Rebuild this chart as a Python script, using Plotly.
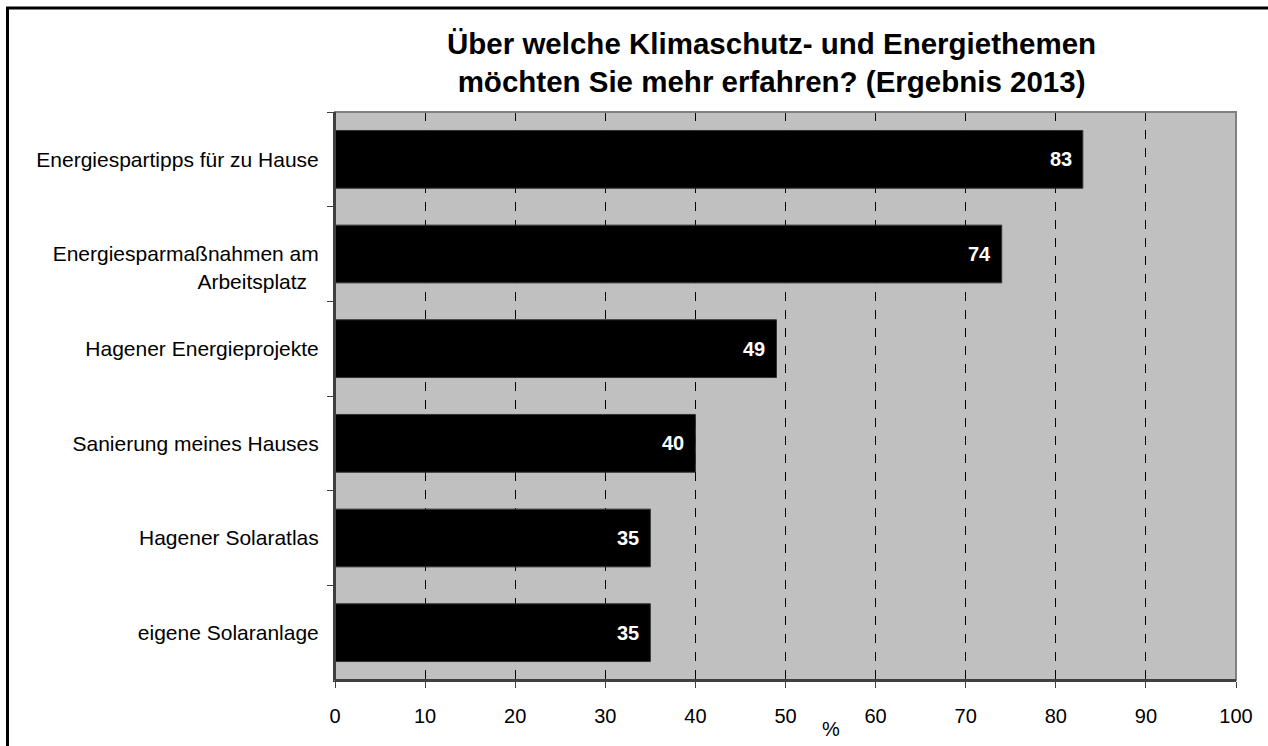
import plotly.graph_objects as go

# Survey topics (top to bottom) and share of respondents in percent
topics = [
    "Energiespartipps für zu Hause",
    "\u00a0<br>Energiesparmaßnahmen am<br>Arbeitsplatz\u00a0\u00a0",
    "Hagener Energieprojekte",
    "Sanierung meines Hauses",
    "Hagener Solaratlas",
    "eigene Solaranlage",
]
percent = [83, 74, 49, 40, 35, 35]
x_ticks = [0, 10, 20, 30, 40, 50, 60, 70, 80, 90, 100]

W, H = 1268, 746
L, R, T, B = 335, 32, 112, 66
pw, ph = W - L - R, H - T - B

def px_x(p):
    return (p - L) / pw

def px_y(p):
    return (H - B - p) / ph

FONT = "Liberation Sans, Arial, sans-serif"

fig = go.Figure(
    go.Bar(
        x=percent,
        y=topics,
        orientation="h",
        marker=dict(color="black", line=dict(color="#333333", width=1)),
        hoverinfo="x+y",
    )
)

# Value labels inside the bar ends
for topic, value in zip(topics, percent):
    fig.add_annotation(
        x=value, y=topic, xref="x", yref="y",
        xanchor="right", yanchor="middle", xshift=-9,
        text=f"<b>{value}</b>", showarrow=False,
        font=dict(family=FONT, size=20, color="white"),
    )

fig.update_layout(
    width=W,
    height=H,
    margin=dict(l=L, r=R, t=T, b=B, autoexpand=False),
    paper_bgcolor="white",
    plot_bgcolor="#C0C0C0",
    bargap=0.39,
    showlegend=False,
    font=dict(family=FONT, color="black"),
)

fig.update_xaxes(
    range=[0, 100],
    tickvals=x_ticks,
    ticktext=[str(v) for v in x_ticks],
    tickfont=dict(size=20, color="black"),
    ticks="outside",
    ticklen=6,
    tickcolor="#404040",
    showline=True,
    linecolor="#404040",
    linewidth=2,
    showgrid=True,
    gridcolor="black",
    griddash="dash",
    gridwidth=1,
    zeroline=False,
    ticklabelstandoff=11,
    fixedrange=True,
)

fig.update_yaxes(
    autorange="reversed",
    tickfont=dict(size=21, color="black"),
    ticks="outside",
    tickson="boundaries",
    ticklen=6,
    tickcolor="#404040",
    showline=True,
    linecolor="#404040",
    linewidth=2,
    showgrid=False,
    ticklabelstandoff=10,
    fixedrange=True,
)

# Grey frame around the plot area (top and right edges visible)
fig.add_shape(type="rect", xref="paper", yref="paper", x0=0, y0=0, x1=1, y1=1,
              line=dict(color="#808080", width=2), layer="above")
# Darker left and bottom axis lines over the frame
fig.add_shape(type="line", xref="paper", yref="paper", x0=0, y0=0, x1=0, y1=1,
              line=dict(color="#404040", width=2), layer="above")
fig.add_shape(type="line", xref="paper", yref="paper", x0=0, y0=0, x1=1, y1=0,
              line=dict(color="#404040", width=2), layer="above")

# Outer border of the chart (left and top edges)
fig.add_shape(type="line", xref="paper", yref="paper",
              x0=px_x(7.5), y0=px_y(8), x1=px_x(7.5), y1=px_y(760),
              line=dict(color="black", width=3), layer="above")
fig.add_shape(type="line", xref="paper", yref="paper",
              x0=px_x(6), y0=px_y(8), x1=px_x(1280), y1=px_y(8),
              line=dict(color="black", width=3), layer="above")

# Title
fig.add_annotation(
    xref="paper", yref="paper",
    x=px_x(771), y=px_y(62),
    xanchor="center", yanchor="middle",
    text="<b>Über welche Klimaschutz- und Energiethemen<br>möchten Sie mehr erfahren? (Ergebnis 2013)</b>",
    showarrow=False,
    font=dict(family=FONT, size=29.5, color="black"),
)

# Unit label below the x axis
fig.add_annotation(
    xref="paper", yref="paper",
    x=px_x(831), y=px_y(729),
    xanchor="center", yanchor="middle",
    text="%",
    showarrow=False,
    font=dict(family=FONT, size=20, color="black"),
)

fig.write_html("out.html")
